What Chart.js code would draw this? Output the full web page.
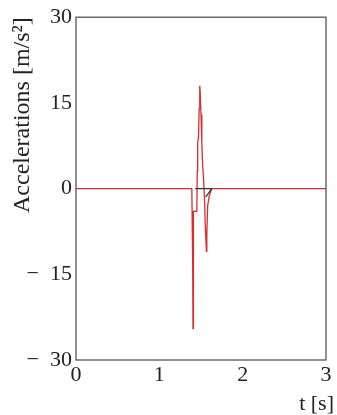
<!DOCTYPE html>
<html>
<head>
<meta charset="utf-8">
<script src="https://cdn.jsdelivr.net/npm/chart.js@4"></script>
<style>
  html, body { margin: 0; padding: 0; background: #fff; }
  #wrap { width: 337px; height: 415px; }
</style>
</head>
<body>
<div id="wrap"><canvas id="accChart" width="337" height="415"></canvas></div>
<script>
// time [s] and acceleration [m/s^2]
const tRed = [0, 1.39, 1.40, 1.404, 1.408, 1.41, 1.45, 1.455, 1.46, 1.47, 1.478, 1.485, 1.49, 1.50, 1.51, 1.52, 1.53, 1.545, 1.55, 1.565, 1.57, 1.58, 1.60, 1.63, 3];
const aRed = [0, 0, -13, -24.5, -19, -4, -4, 3, 8, 9, 14, 18, 17, 13, 8, 4, 2, -3, -6, -11, -8, -3, -1.2, 0, 0];
const tBlack = [1.43, 1.63, 1.59, 1.555];
const aBlack = [0, 0, -0.8, -1.5];

const xTicks = [0, 1, 2, 3];
const yTicks = [-30, -15, 0, 15, 30];
const yTickLabels = ['\u2212  30', '\u2212  15', '0', '15', '30'];
const xTitle = 't [s]';
const yTitle = 'Accelerations [m/s\u00b2]';

const toPoints = (xs, ys) => xs.map((x, i) => ({ x: x, y: ys[i] }));

const family = '"Liberation Serif", "Times New Roman", serif';
const tickFont = { family: family, size: 22 };
const titleFont = { family: family, size: 24 };

// frame round the plot and the time label under the right end
const boxPlugin = {
    id: 'box',
    afterDraw(chart) {
        const { ctx, chartArea: a } = chart;
        ctx.save();
        ctx.strokeStyle = '#555';
        ctx.lineWidth = 1.3;
        ctx.strokeRect(a.left, a.top, a.right - a.left, a.bottom - a.top);
        ctx.fillStyle = '#222';
        ctx.font = '22px ' + family;
        ctx.textAlign = 'right';
        ctx.textBaseline = 'alphabetic';
        ctx.fillText(xTitle, a.right + 8, a.bottom + 50);
        ctx.restore();
    }
};

new Chart(document.getElementById('accChart'), {
    type: 'scatter',
    data: {
        datasets: [{
            data: toPoints(tBlack, aBlack),
            showLine: true,
            borderColor: '#333',
            borderWidth: 1.2,
            pointRadius: 0,
            order: 0
        }, {
            data: toPoints(tRed, aRed),
            showLine: true,
            borderColor: 'rgb(218, 45, 50)',
            borderWidth: 1.3,
            pointRadius: 0,
            order: 1
        }]
    },
    options: {
        responsive: false,
        animation: false,
        layout: { padding: { left: 0, right: 11, top: 15, bottom: 0 } },
        plugins: { legend: { display: false }, tooltip: { enabled: false } },
        scales: {
            x: {
                type: 'linear',
                min: 0,
                max: 3,
                afterBuildTicks: s => { s.ticks = xTicks.map(v => ({ value: v })); },
                afterFit: s => { s.height = 55; },
                grid: { display: false, drawTicks: false },
                border: { display: false },
                ticks: { color: '#222', font: tickFont, padding: 2, maxRotation: 0 }
            },
            y: {
                min: -30,
                max: 30,
                afterBuildTicks: s => { s.ticks = yTicks.map(v => ({ value: v })); },
                afterFit: s => { s.width = 76; },
                grid: { display: false, drawTicks: false },
                border: { display: false },
                ticks: {
                    color: '#222',
                    font: tickFont,
                    padding: 4,
                    callback: v => yTickLabels[yTicks.indexOf(v)]
                },
                title: { display: true, text: yTitle, align: 'end', color: '#222', font: titleFont, padding: { top: 8, bottom: 0 } }
            }
        }
    },
    plugins: [boxPlugin]
});
</script>
</body>
</html>
